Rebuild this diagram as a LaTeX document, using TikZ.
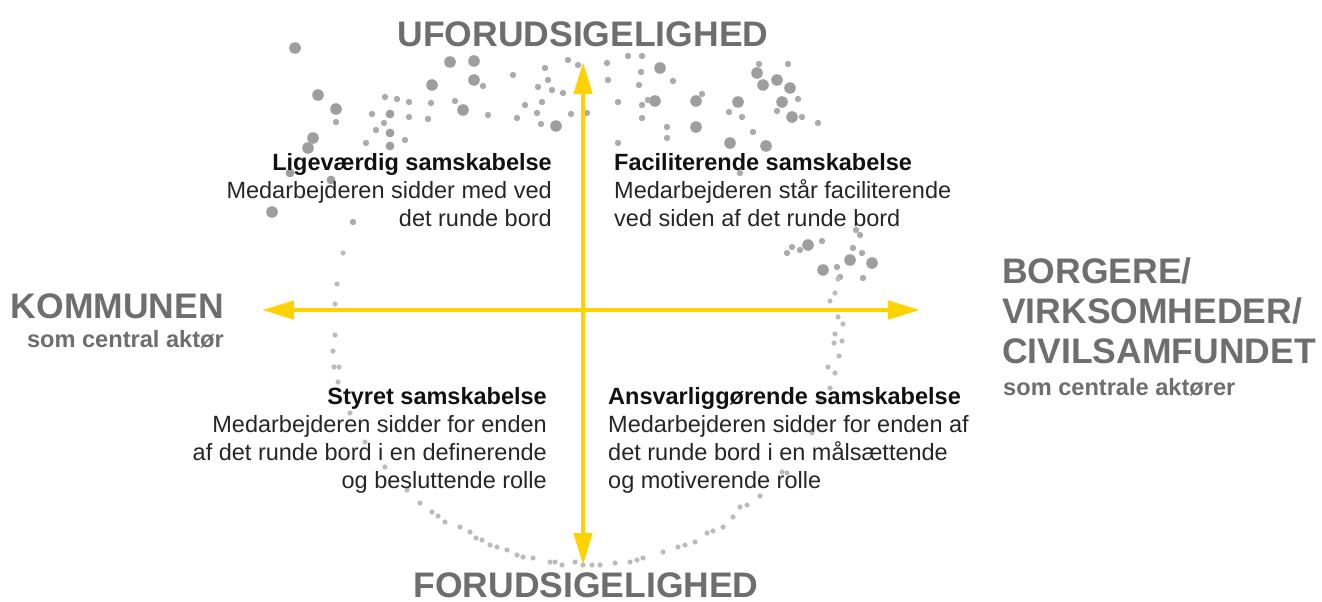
\documentclass[tikz,border=0pt]{standalone}
\usepackage{fontspec}
\setmainfont{Liberation Sans}
\usetikzlibrary{arrows.meta}
\definecolor{axisyellow}{HTML}{FFD200}
\definecolor{titlegrey}{HTML}{6E6E6E}
\definecolor{bigdot}{HTML}{9E9E9E}
\definecolor{smalldot}{HTML}{ABABAB}
\definecolor{ringdot}{HTML}{BCBCBC}
\definecolor{bodytext}{HTML}{262626}
\definecolor{headtext}{HTML}{111111}
\tikzset{
  bigtitle/.style={font=\fontsize{35.5}{40}\selectfont\bfseries, text=titlegrey, inner sep=0pt},
  subtitle/.style={font=\fontsize{23.6}{28}\selectfont\bfseries, text=titlegrey, inner sep=0pt},
  quadtext/.style={font=\fontsize{23.5}{28}\selectfont, text=bodytext, inner sep=0pt},
  axisarrow/.style={draw=axisyellow, line width=4.5pt, -{Triangle[length=32pt,width=18pt]}},
  bdot/.style={fill=bigdot},
  sdot/.style={fill=smalldot},
  rdot/.style={fill=ringdot}
}
\newcommand{\qhead}[1]{\textcolor{headtext}{\textbf{#1}}}
\begin{document}
\begin{tikzpicture}[x=1pt,y=-1pt]
\useasboundingbox (0,0) rectangle (1322,602);
\fill[white] (0,0) rectangle (1322,602);
% big dots
\foreach \p in {(295,48),(318,95),(336,109),(432,85),(313,138),(308,148),(272,212),(450,62),(474,61),(474,80),(463,110),(556,126),(660,68),(655,101),(696,101),(696,127),(738,102),(730,143),(766,146),(757,73),(763,85),(777,80),(790,88),(782,102),(792,117),(808,245),(823,270),(850,260),(872,263)}
  \fill[bdot] \p circle (5.8pt);
% medium dots
\foreach \p in {(390,114),(390,133),(390,146),(290,173),(331,180)}
  \fill[bdot] \p circle (4.4pt);
% small dots
\foreach \p in {(336,122),(385,97),(397,99),(409,102),(431,103),(372,114),(409,117),(428,119),(384,123),(376,130),(405,140),(366,143),(353,222),(483,86),(455,101),(488,115),(513,75),(517,118),(525,105),(538,87),(545,68),(548,80),(552,90),(563,93),(568,60),(578,65),(542,102),(537,113),(541,124),(571,114),(587,113),(607,63),(608,80),(628,56),(642,56),(641,72),(639,85),(618,102),(642,105),(648,100),(642,118),(667,127),(667,138),(618,143),(673,81),(702,94),(729,112),(742,117),(753,132),(759,64),(788,64),(798,99),(777,111),(802,117),(818,123),(740,173),(856,230),(860,235),(800,250),(792,247),(787,253),(822,241),(837,267),(853,248),(862,253),(840,277),(863,278)}
  \fill[sdot] \p circle (3.2pt);
% ring dots
\foreach \p in {(343,253),(337,284),(335,304),(335,335),(333,351),(334,367),(339,367),(338,382),(350,413),(365,442),(385,467),(407,490),(420,503),(432,512),(438,516),(445,522),(460,527),(470,532),(476,538),(482,540),(490,545),(497,547),(507,550),(517,555),(523,557),(533,558),(550,562),(555,562),(562,565),(575,562),(583,565),(592,565),(600,565),(615,563),(630,562),(637,560),(643,558),(663,552),(678,547),(685,545),(695,542),(707,533),(713,531),(723,527),(733,517),(740,507),(747,505),(760,496),(782,472),(787,473),(812,433),(820,400),(830,388),(828,367),(835,373),(839,356),(834,343),(842,341),(835,334),(843,324),(838,317),(830,301),(835,293),(838,279)}
  \fill[rdot] \p circle (2.6pt);

% axes
\coordinate (c) at (583,310);
\coordinate (up) at (583,62);
\coordinate (down) at (583,565);
\coordinate (left) at (262,310);
\coordinate (right) at (920,310);
\draw[axisarrow] (c) -- (up);
\draw[axisarrow] (c) -- (down);
\draw[axisarrow] (c) -- (left);
\draw[axisarrow] (c) -- (right);

% axis labels
\node[bigtitle, anchor=base] (unpred) at (583,47) {UFORUDSIGELIGHED};
\node[bigtitle, anchor=base] (pred) at (586,597) {FORUDSIGELIGHED};
\node[bigtitle, anchor=base east] (komm) at (224,318) {KOMMUNEN};
\node[subtitle, anchor=base east] (kommsub) at (224,347) {som central aktør};
\node[bigtitle, anchor=base west] (borg1) at (1002,283) {BORGERE/};
\node[bigtitle, anchor=base west] (borg2) at (1002,323) {VIRKSOMHEDER/};
\node[bigtitle, anchor=base west] (borg3) at (1002,363) {CIVILSAMFUNDET};
\node[subtitle, anchor=base west] (borgsub) at (1003,395) {som centrale aktører};

% quadrants (base anchor = baseline of last line)
\node[quadtext, align=right, anchor=base east] (q1) at (552,226)
  {\qhead{Ligeværdig samskabelse}\\Medarbejderen sidder med ved\\det runde bord};
\node[quadtext, align=left, anchor=base west] (q2) at (614,226)
  {\qhead{Faciliterende samskabelse}\\Medarbejderen står faciliterende\\ved siden af det runde bord};
\node[quadtext, align=right, anchor=base east] (q3) at (547,488)
  {\qhead{Styret samskabelse}\\Medarbejderen sidder for enden\\af det runde bord i en definerende\\og besluttende rolle};
\node[quadtext, align=left, anchor=base west] (q4) at (608,488)
  {\qhead{Ansvarliggørende samskabelse}\\Medarbejderen sidder for enden af\\det runde bord i en målsættende\\og motiverende rolle};
\end{tikzpicture}
\end{document}
